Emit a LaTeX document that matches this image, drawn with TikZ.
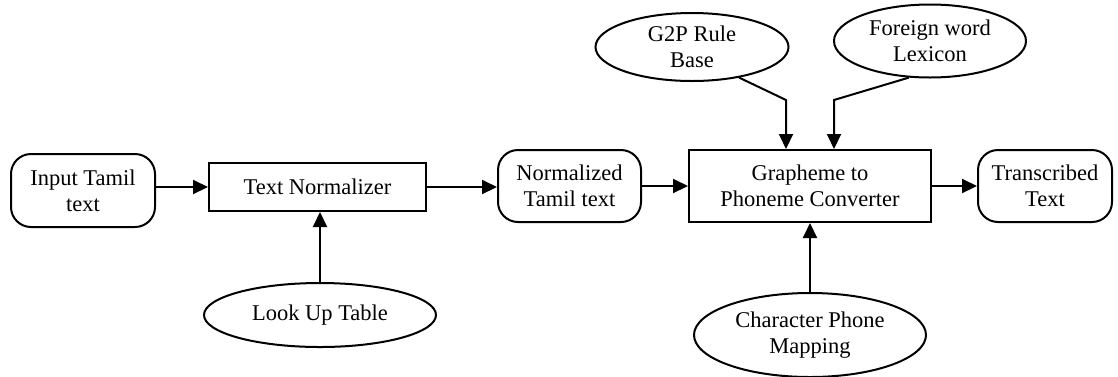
\documentclass[tikz,border=0pt]{standalone}
\usepackage{fontspec}
\setmainfont{Liberation Serif}
\usetikzlibrary{shapes.geometric,arrows.meta}
\begin{document}
\begin{tikzpicture}[x=1pt,y=1pt,
  every node/.style={font=\fontsize{22.5}{26}\selectfont, align=center, inner sep=0pt},
  ln/.style={line width=2pt},
  arr/.style={ln, -{Triangle[length=15pt,width=14pt]}},
  rbox/.style={draw, ln, rounded corners=20pt},
  sbox/.style={draw, ln},
  ell/.style={draw, ln, ellipse}]
\useasboundingbox (0,0) rectangle (1118,-376);
\node[rbox, minimum width=144pt, minimum height=73pt] (in) at (83,-190.5) {Input Tamil\\text};
\node[sbox, minimum width=217pt, minimum height=48pt] (tn) at (317.5,-187) {Text Normalizer};
\node[ell, minimum width=232pt, minimum height=64pt] (lut) at (320,-315) {Look Up Table};
\node[rbox, minimum width=143pt, minimum height=72pt] (ntt) at (569.5,-186) {Normalized\\Tamil text};
\node[sbox, minimum width=242pt, minimum height=72pt] (g2p) at (810,-186) {Grapheme to\\Phoneme Converter};
\node[rbox, minimum width=134pt, minimum height=72pt] (tt) at (1045,-186) {Transcribed\\Text};
\node[ell, minimum width=193pt, minimum height=68pt] (rule) at (692,-47) {G2P Rule\\Base};
\node[ell, minimum width=192pt, minimum height=73pt] (lex) at (930,-41) {Foreign word\\Lexicon};
\node[ell, minimum width=232pt, minimum height=84pt] (cpm) at (810,-335) {Character Phone\\Mapping};
\coordinate (rb) at (786,-100);
\coordinate (lb) at (834,-100);
\draw[arr] (tn.west -| in.east) -- (tn.west);
\draw[arr] (tn.east) -- (tn.east -| ntt.west);
\draw[arr] (ntt.east) -- (ntt.east -| g2p.west);
\draw[arr] (g2p.east) -- (g2p.east -| tt.west);
\draw[arr] (lut.north) -- (lut.north |- tn.south);
\draw[arr] (cpm.north) -- (cpm.north |- g2p.south);
\draw[arr] (rule.-33) -- (rb) -- (rb |- g2p.north);
\draw[arr] (lex.-120) -- (lb) -- (lb |- g2p.north);
\end{tikzpicture}
\end{document}
